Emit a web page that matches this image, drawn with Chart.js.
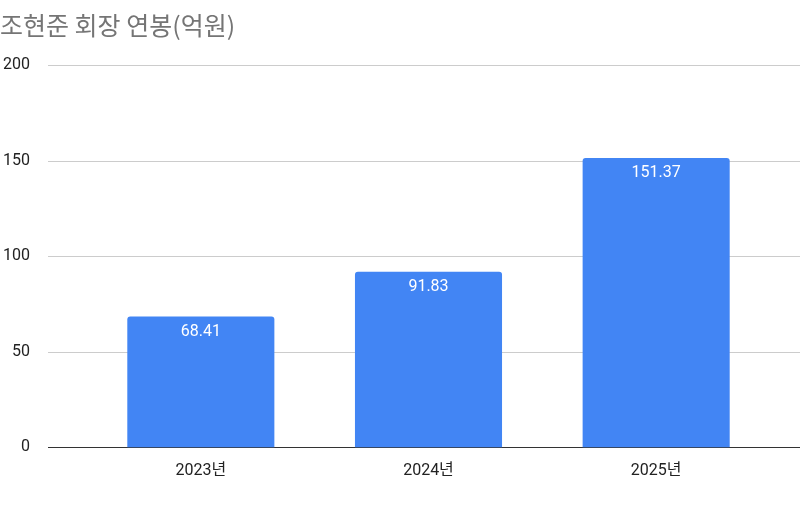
<!DOCTYPE html>
<html>
<head>
<meta charset="utf-8">
<script src="https://cdn.jsdelivr.net/npm/chart.js@4/dist/chart.umd.min.js"></script>
<style>
html, body { margin: 0; padding: 0; background: #fff; }
#wrap { width: 800px; height: 506px; }
</style>
</head>
<body>
<div id="wrap"><canvas id="chart" width="800" height="506"></canvas></div>
<script>
var categories = ["2023년", "2024년", "2025년"];
var salary = [68.41, 91.83, 151.37];
var yTicks = [0, 50, 100, 150, 200];

// gridlines and baseline run wider than the plot area
var wideGrid = {
    id: "wideGrid",
    beforeDatasetsDraw: function (chart) {
        var ctx = chart.ctx;
        var y = chart.scales.y;
        ctx.save();
        ctx.lineWidth = 1;
        yTicks.forEach(function (v) {
            var py = Math.round(y.getPixelForValue(v)) + 0.5;
            ctx.strokeStyle = v === 0 ? "#333333" : "#cccccc";
            ctx.beginPath();
            ctx.moveTo(48, py);
            ctx.lineTo(800, py);
            ctx.stroke();
        });
        ctx.restore();
    }
};

// value inside the top of each bar
var barLabels = {
    id: "barLabels",
    afterDatasetsDraw: function (chart) {
        var ctx = chart.ctx;
        var meta = chart.getDatasetMeta(0);
        ctx.save();
        ctx.fillStyle = "#ffffff";
        ctx.font = "16px Roboto, 'Noto Sans CJK KR'";
        ctx.textAlign = "center";
        ctx.textBaseline = "top";
        meta.data.forEach(function (bar, i) {
            ctx.fillText(salary[i].toFixed(2), bar.x, bar.y + 7);
        });
        ctx.restore();
    }
};

new Chart(document.getElementById("chart"), {
    type: "bar",
    data: {
        labels: categories,
        datasets: [{
            data: salary,
            backgroundColor: "#4285f4",
            borderRadius: { topLeft: 3, topRight: 3 },
            borderSkipped: "bottom",
            categoryPercentage: 0.646,
            barPercentage: 1
        }]
    },
    options: {
        responsive: false,
        animation: false,
        layout: { padding: { left: 0, right: 30, top: 0, bottom: 9 } },
        plugins: {
            legend: { display: false },
            tooltip: { enabled: false },
            title: {
                display: true,
                text: "조현준 회장 연봉(억원)",
                align: "start",
                color: "#757575",
                font: { size: 25, family: "'Noto Sans CJK KR'", weight: "normal" },
                padding: { top: 10, bottom: 25 }
            }
        },
        scales: {
            x: {
                grid: { display: false },
                border: { display: false },
                ticks: { color: "#222", font: { size: 16, family: "Roboto, 'Noto Sans CJK KR'" }, padding: 6 }
            },
            y: {
                min: 0,
                max: 200,
                afterBuildTicks: function (axis) {
                    axis.ticks = yTicks.map(function (v) { return { value: v }; });
                },
                afterFit: function (scale) { scale.width = 87; },
                grid: { display: false },
                border: { display: false },
                ticks: { color: "#222", font: { size: 16, family: "Roboto" }, padding: 49 }
            }
        }
    },
    plugins: [wideGrid, barLabels]
});
</script>
</body>
</html>
